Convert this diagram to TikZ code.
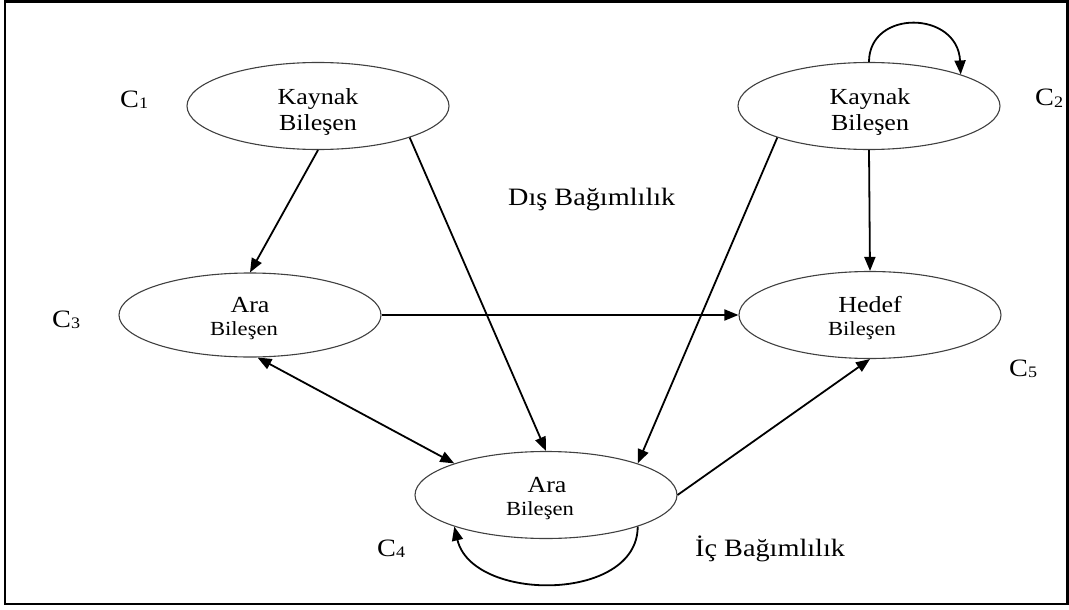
\documentclass[tikz,border=0pt]{standalone}
\usepackage{fontspec}
\setmainfont{Liberation Serif}[FakeStretch=1.13]
\usetikzlibrary{arrows.meta,shapes.geometric}
\newcommand\csub[1]{\raisebox{-1.5pt}{\fontsize{16}{16}\selectfont #1}}
\begin{document}
\begin{tikzpicture}[x=1pt,y=-1pt,
  comp/.style={draw=black!75,line width=1.1pt,ellipse,minimum width=262pt,minimum height=87pt,inner sep=0pt},
  arr/.style={line width=1.8pt,-{Triangle[length=14pt,width=11pt]}},
  darr/.style={line width=1.8pt,{Triangle[length=14pt,width=11pt]}-{Triangle[length=14pt,width=11pt]}},
  txt/.style={anchor=base,inner sep=0pt,font=\fontsize{23}{23}\selectfont},
  stxt/.style={anchor=base,inner sep=0pt,font=\fontsize{20}{20}\selectfont},
  lbl/.style={anchor=base west,inner sep=0pt,font=\fontsize{25}{25}\selectfont}]
\useasboundingbox (0,0) rectangle (1069,610);
\draw[line width=2.5pt] (5,1.5) rectangle (1067.5,604);
% components
\node[comp] (e1) at (318,106) {};
\node[comp] (e2) at (869,106) {};
\node[comp,minimum height=84pt] (e3) at (250,315) {};
\node[comp] (e5) at (870,315) {};
\node[comp] (e4) at (546,495) {};
% texts
\node[txt] (t1a) at (318,105) {Kaynak};
\node[txt] (t1b) at (318,131) {Bileşen};
\node[txt] (t2a) at (870,105) {Kaynak};
\node[txt] (t2b) at (870,130) {Bileşen};
\node[txt] (t3a) at (250,312) {Ara};
\node[stxt] (t3b) at (244,335) {Bileşen};
\node[txt] (t5a) at (870,312) {Hedef};
\node[stxt] (t5b) at (862,335) {Bileşen};
\node[txt] (t4a) at (547,492) {Ara};
\node[stxt] (t4b) at (540,515) {Bileşen};
% labels
\node[lbl] (c1) at (120,107) {C\csub{1}};
\node[lbl] (c2) at (1035,106) {C\csub{2}};
\node[lbl] (c3) at (52,327) {C\csub{3}};
\node[lbl] (c4) at (377,556) {C\csub{4}};
\node[lbl] (c5) at (1009,376) {C\csub{5}};
\node[lbl] (dis) at (508,205) {Dış Bağımlılık};
\node[lbl] (ic) at (695,556) {İç Bağımlılık};
% connectors
\draw[arr] (e1.south) -- (e3.north);
\draw[arr] (e1.-19) -- (e4.north);
\draw[arr] (e2.-161) -- (e4.19);
\draw[arr] (e2.south) -- (e5.north);
\draw[arr] (e3.east) -- (e5.west);
\draw[darr] (e3.-80) -- (e4.161);
\draw[arr] (e4.east) -- (e5.south);
\draw[arr] (e2.north) .. controls +(0,-53) and +(-3,-64) .. (e2.19);
\draw[arr] (e4.-19) .. controls +(0,76) and +(18,76) .. (e4.-161);
\end{tikzpicture}
\end{document}
